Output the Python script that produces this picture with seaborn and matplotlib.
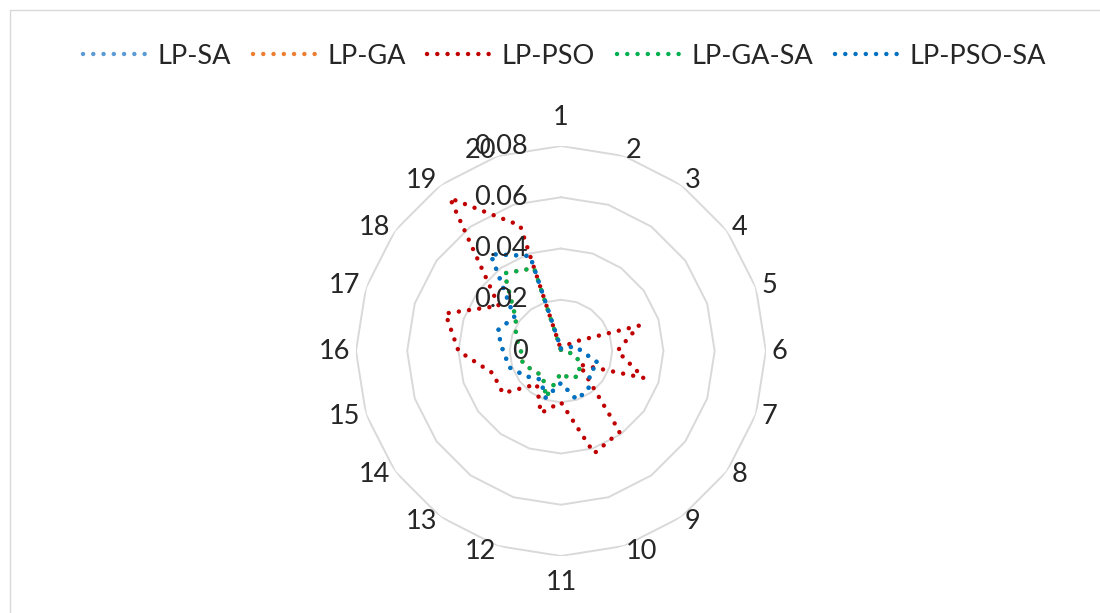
import numpy as np
import pandas as pd
import matplotlib
matplotlib.use("Agg")
import matplotlib.pyplot as plt
from matplotlib.lines import Line2D
import seaborn as sns

# Radar categories (1..20) and per-method values
categories = [str(i) for i in range(1, 21)]
series_names = ["LP-SA", "LP-GA", "LP-PSO", "LP-GA-SA", "LP-PSO-SA"]

lp_pso = [0.0005, 0.001, 0.002, 0.006, 0.032, 0.022, 0.034, 0.009, 0.039, 0.042,
          0.020, 0.0255, 0.016, 0.028, 0.028, 0.040, 0.0474, 0.030, 0.0737, 0.0515]
lp_ga_sa = [0.0005, 0.0005, 0.0005, 0.001, 0.0015, 0.002, 0.0064, 0.009, 0.012, 0.0113,
            0.0086, 0.019, 0.012, 0.0132, 0.0157, 0.0156, 0.0185, 0.0218, 0.0375, 0.034]
lp_pso_sa = [0.001, 0.001, 0.001, 0.002, 0.006, 0.008, 0.0155, 0.014, 0.0183, 0.020,
             0.0125, 0.0192, 0.0137, 0.0168, 0.021, 0.0226, 0.026, 0.0225, 0.0467, 0.039]
lp_sa = [0.001, 0.001, 0.001, 0.002, 0.006, 0.008, 0.0155, 0.014, 0.0183, 0.020,
         0.0125, 0.0192, 0.0137, 0.0168, 0.021, 0.0226, 0.026, 0.0225, 0.0467, 0.039]
lp_ga = [0.0005, 0.0005, 0.0005, 0.001, 0.0015, 0.002, 0.0064, 0.009, 0.012, 0.0113,
         0.0086, 0.019, 0.012, 0.0132, 0.0157, 0.0156, 0.0185, 0.0218, 0.0375, 0.034]

radial_ticks = [0, 0.02, 0.04, 0.06, 0.08]
radial_labels = ["0", "0.02", "0.04", "0.06", "0.08"]

colors = {
    "LP-SA": "#5B9BD5",
    "LP-GA": "#ED7D31",
    "LP-PSO": "#C00000",
    "LP-GA-SA": "#00B050",
    "LP-PSO-SA": "#0070C0",
}

sns.set_theme(style="white")
plt.rcParams["font.family"] = ["Lato", "DejaVu Sans"]
FS = 19.5
DOT = (0, (0.01, 2.3))
LW = 3.2

fig = plt.figure(figsize=(11, 6.13), dpi=100)
ax = fig.add_axes([0.3236, 0.0930, 0.3727, 0.6688], projection="polar")
ax.set_theta_zero_location("N")
ax.set_theta_direction(-1)

n = len(categories)
theta = np.arange(n) * 2 * np.pi / n
theta_closed = np.append(theta, 2 * np.pi)

rows = []
for name, vals in zip(series_names, [lp_sa, lp_ga, lp_pso, lp_ga_sa, lp_pso_sa]):
    closed = list(vals) + [vals[0]]
    for t, v in zip(theta_closed, closed):
        rows.append({"theta": t, "value": v, "series": name})
df = pd.DataFrame(rows)

# polygonal grid rings
for r in radial_ticks[1:]:
    ax.plot(theta_closed, [r] * (n + 1), color="#D9D9D9", lw=1.4, zorder=1)

sns.lineplot(data=df, x="theta", y="value", hue="series", hue_order=series_names,
             palette=colors, sort=False, estimator=None, ax=ax, legend=False,
             linewidth=LW, linestyle=DOT, dash_capstyle="round", zorder=3)

ax.set_ylim(0, 0.08)
ax.set_xticks([])
ax.set_yticks([])
ax.grid(False)
ax.spines["polar"].set_visible(False)
ax.set_xlabel("")
ax.set_ylabel("")
ax.patch.set_alpha(0)

# category labels around the outer ring: side labels hug the ring,
# top/bottom labels sit a little further out
for t, lab in zip(theta, categories):
    s = np.sin(t)
    if abs(s) < 0.05:
        ha = "center"
        r = 0.0912 if np.cos(t) > 0 else 0.0905
    else:
        ha = "left" if s > 0 else "right"
        r = 0.0823
    ax.text(t, r, lab, ha=ha, va="center", fontsize=FS, clip_on=False)

# value labels left of the vertical axis
for r, lab in zip(radial_ticks, radial_labels):
    ax.annotate(lab, xy=(0, r), xytext=(-23.8, 0), textcoords="offset points",
                ha="right", va="center", fontsize=FS, annotation_clip=False)

handles = [Line2D([0], [0], color=colors[s], lw=LW, linestyle=DOT, dash_capstyle="round")
           for s in series_names]
fig.legend(handles, series_names, loc="center", bbox_to_anchor=(0.513, 0.908), ncol=5,
           frameon=False, fontsize=FS, handlelength=2.5, handletextpad=0.25,
           columnspacing=0.8)

# chart-area border
fig.add_artist(Line2D([10 / 1100, 1], [1 - 10 / 613] * 2, color="#D9D9D9", lw=1,
                      transform=fig.transFigure))
fig.add_artist(Line2D([10 / 1100] * 2, [0, 1 - 10 / 613], color="#D9D9D9", lw=1,
                      transform=fig.transFigure))

fig.savefig("out.png", dpi=100)
